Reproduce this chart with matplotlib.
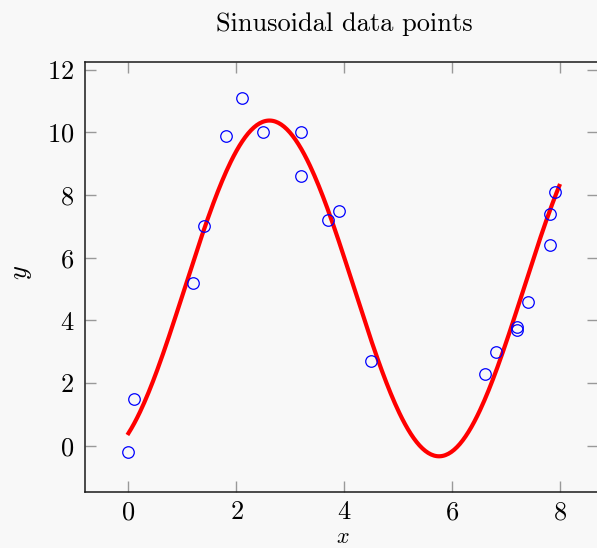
"""Sinusoidal data points with a fitted sine curve."""

import matplotlib

matplotlib.use("Agg")
import matplotlib.pyplot as plt
import numpy as np

point_x = [0.0, 0.1, 1.2, 1.4, 1.8, 2.1, 2.5, 3.2, 3.2, 3.7,
           3.9, 4.5, 6.6, 6.8, 7.2, 7.2, 7.4, 7.8, 7.8, 7.9]
point_y = [-0.2, 1.5, 5.2, 7.0, 9.9, 11.1, 10.0, 10.0, 8.6, 7.2,
           7.5, 2.7, 2.3, 3.0, 3.8, 3.7, 4.6, 6.4, 7.4, 8.1]

# fitted sine curve parameters (offset + amplitude * sin(freq * x + phase))
fit_offset = 5.02
fit_amplitude = 5.36
fit_freq = 1.0
fit_phase = -1.04
fit_domain = (0.0, 7.98)

x_ticks = [0, 2, 4, 6, 8]
y_ticks = [0, 2, 4, 6, 8, 10, 12]

BG = "#f8f8f8"
FS = 19

plt.rcParams["font.family"] = "serif"
plt.rcParams["font.serif"] = ["cmr10"]
plt.rcParams["mathtext.fontset"] = "cm"
plt.rcParams["axes.formatter.use_mathtext"] = True

fig = plt.figure(figsize=(5.97, 5.48), dpi=100, facecolor=BG)
W, H = 597, 548
left, right, top, bottom = 85.3, 597.6, 62.3, 492.3
ax = fig.add_axes([left / W, 1 - bottom / H, (right - left) / W, (bottom - top) / H])
ax.set_facecolor(BG)

x_fit = np.linspace(fit_domain[0], fit_domain[1], 300)
y_fit = fit_offset + fit_amplitude * np.sin(fit_freq * x_fit + fit_phase)
ax.plot(x_fit, y_fit, color="red", linewidth=3.0, zorder=2)
ax.plot(point_x, point_y, linestyle="none", marker="o", markersize=8.3,
        markerfacecolor="none", markeredgecolor="blue", markeredgewidth=0.9, zorder=3)

ax.set_xlim(-0.80, 8.69)
ax.set_ylim(-1.49, 12.24)
ax.set_xticks(x_ticks)
ax.set_yticks(y_ticks)
ax.tick_params(direction="in", length=7.8, width=1.0, color="#999999",
               top=True, right=True, labelsize=FS, pad=8)
ax.tick_params(axis="x", pad=6)
for spine in ax.spines.values():
    spine.set_linewidth(1.1)
    spine.set_color("#1a1a1a")

fig.text(344 / W, 1 - 24 / H, "Sinusoidal data points", fontsize=FS,
         ha="center", va="center")
fig.text(22 / W, 1 - 272 / H, "$y$", fontsize=FS, rotation=90,
         ha="center", va="center")
# x label sits right at the lower edge, as in the reference
fig.text(343 / W, 1 - 547 / H, "$x$", fontsize=16, ha="center", va="bottom")

fig.savefig("out.png", dpi=100, facecolor=BG)
